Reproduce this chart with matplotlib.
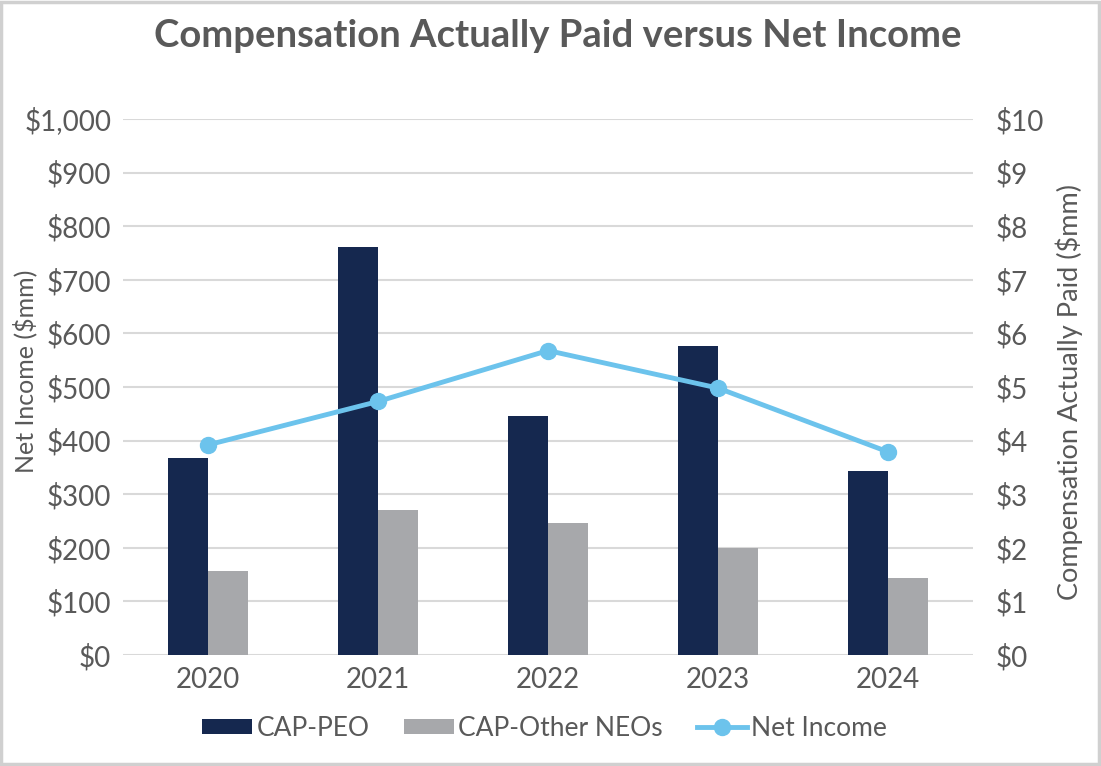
import numpy as np
import matplotlib
matplotlib.use("Agg")
import matplotlib.pyplot as plt
from matplotlib.patches import Rectangle
from matplotlib.ticker import FuncFormatter

# data
years = ['2020', '2021', '2022', '2023', '2024']
cap_peo = [3.67, 7.62, 4.46, 5.76, 3.43]        # $mm, right axis
cap_other_neos = [1.57, 2.71, 2.47, 2.00, 1.43]  # $mm, right axis
net_income = [392, 473, 568, 498, 379]           # $mm, left axis

navy = '#15284F'
grey = '#A7A8AB'
blue = '#6CC3EC'
text_grey = '#595959'

plt.rcParams['font.family'] = ['Lato', 'DejaVu Sans']

fig = plt.figure(figsize=(11.01, 7.66), dpi=100)
fig.patch.set_facecolor('white')
ax = fig.add_axes([123 / 1101, 1 - 655 / 766, 850 / 1101, 536 / 766])
ax2 = ax.twinx()

x = np.arange(len(years))
w = 0.235
b1 = ax2.bar(x - w / 2, cap_peo, w, color=navy, label='CAP-PEO', zorder=2)
b2 = ax2.bar(x + w / 2, cap_other_neos, w, color=grey, label='CAP-Other NEOs', zorder=2)
ln, = ax.plot(x, net_income, color=blue, lw=3.5, marker='o', ms=11.5,
              label='Net Income', zorder=3)

# line axis on top, bars + grid underneath
ax.set_zorder(ax2.get_zorder() + 1)
ax.patch.set_visible(False)

ax.set_xlim(-0.5, len(years) - 0.5)
ax.set_ylim(0, 1000)
ax2.set_ylim(0, 10)
ax.set_yticks(np.arange(0, 1001, 100))
ax2.set_yticks(np.arange(0, 11, 1))
ax.yaxis.set_major_formatter(FuncFormatter(lambda v, p: '${:,.0f}'.format(v)))
ax2.yaxis.set_major_formatter(FuncFormatter(lambda v, p: '${:,.0f}'.format(v)))
ax.set_xticks(x)
ax.set_xticklabels(years)

ax2.set_axisbelow(True)
ax2.yaxis.grid(True, color='#D9D9D9', lw=1.5)
ax.grid(False)

for a in (ax, ax2):
    for s in a.spines.values():
        s.set_visible(False)
    a.tick_params(length=0, colors=text_grey, labelsize=20)
ax.tick_params(axis='y', pad=8.5)
ax2.tick_params(axis='y', pad=16)
ax.tick_params(axis='x', pad=9)

ax.set_ylabel('Net Income ($mm)', color=text_grey, fontsize=18)
ax.yaxis.set_label_coords(-0.101, 0.53)
ax2.set_ylabel('Compensation Actually Paid ($mm)', color=text_grey, fontsize=19.5)
ax2.yaxis.set_label_coords(1.0965, 0.49)

fig.text(0.507, 0.953, 'Compensation Actually Paid versus Net Income', ha='center', va='center',
         fontsize=27.5, fontweight='bold', color=text_grey)

leg = fig.legend([b1, b2, ln], ['CAP-PEO', 'CAP-Other NEOs', 'Net Income'],
                 loc='center', bbox_to_anchor=(0.4946, 0.0496), ncol=3, frameon=False,
                 fontsize=19, handlelength=1.9, handleheight=0.5, columnspacing=1.3,
                 handletextpad=0.15)
for t in leg.get_texts():
    t.set_color(text_grey)

# light frame around the whole picture
fig.patches.append(Rectangle((0.001, 0.002), 0.997, 0.996, transform=fig.transFigure,
                             fill=False, edgecolor='#D0D0D0', lw=2.5))

fig.savefig('out.png', dpi=100)
